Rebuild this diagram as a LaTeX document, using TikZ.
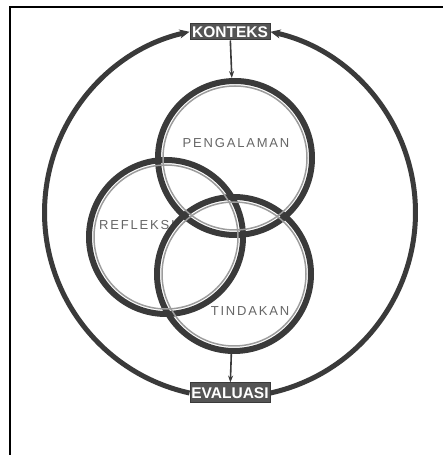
\documentclass[tikz,border=0pt]{standalone}
\usepackage{fontspec}
\setmainfont{Liberation Sans}
\newfontfamily\spacedfont[LetterSpace=14]{Liberation Sans}
\usetikzlibrary{arrows.meta}
\definecolor{ringdark}{HTML}{3A3A3A}
\definecolor{ringgray}{HTML}{9C9C9C}
\definecolor{boxgray}{HTML}{555555}
\definecolor{textgray}{HTML}{666666}

\begin{document}
\begin{tikzpicture}[
  x=1pt, y=1pt,
  stagebox/.style={fill=boxgray, draw=ringdark, line width=1pt, text=white,
    font=\fontsize{15.5}{15.5}\selectfont\bfseries, inner sep=0pt,
    minimum width=80pt},
  ring/.style={circle, draw=ringdark, line width=6pt, minimum size=154pt, inner sep=0pt},
  inner ring/.style={ringgray, line width=1.5pt},
  label/.style={textgray, font=\spacedfont\fontsize{13}{13}\selectfont, inner sep=0pt},
  flow/.style={-{Stealth[length=7pt, width=5pt]}, ringdark, line width=1.6pt},
  loop/.style={-{Stealth[length=10pt, width=9pt]}, ringdark, line width=5pt},
]
\useasboundingbox (0,0) rectangle (443,455);

% frame (cut at the right and bottom)
\draw[black, line width=2pt] (9.5,0) -- (9.5,448) -- (443,448);

% ===== labels (under the rings) =====
\node[label] (lpengalaman) at (236,312) {PENGALAMAN};
\node[label, anchor=west] (lrefleksi) at (99,230) {REFLEKSI};
\node[label] (ltindakan) at (250,144) {TINDAKAN};

% ===== three rings =====
\node[ring] (refleksi) at (166,218) {};
\node[ring] (pengalaman) at (235,297) {};
\node[ring] (tindakan) at (234,181) {};
\foreach \c in {refleksi,pengalaman,tindakan}
  \draw[inner ring] (\c.center) circle (72);

% ===== context and evaluation =====
\node[stagebox, minimum height=16pt] (konteks) at (230,423) {KONTEKS};
\node[stagebox, minimum height=20pt] (evaluasi) at (230,62) {EVALUASI};

\draw[flow] (konteks) -- (pengalaman);
\draw[flow] (tindakan) -- (evaluasi);

% outer loop back to the context
\draw[loop] (evaluasi.west) arc[start angle=257.5, end angle=102.5, radius=185];
\draw[loop] (evaluasi.east) arc[start angle=-77.5, end angle=77.5, radius=185];

\end{tikzpicture}
\end{document}
